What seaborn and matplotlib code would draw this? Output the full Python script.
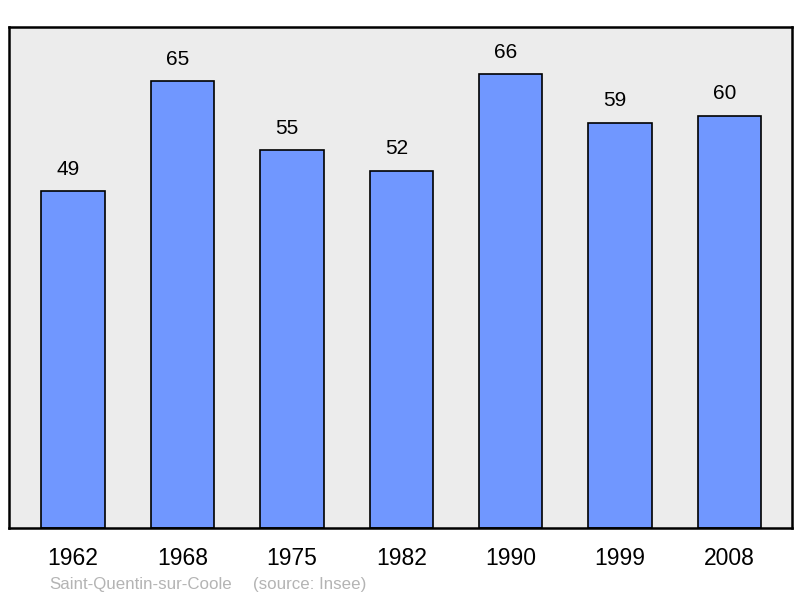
import matplotlib
matplotlib.use('Agg')
import matplotlib.pyplot as plt
import seaborn as sns
import pandas as pd

sns.set_theme(style='white')
plt.rcParams['font.family'] = ['Liberation Sans', 'DejaVu Sans']

years = ['1962', '1968', '1975', '1982', '1990', '1999', '2008']
population = [49, 65, 55, 52, 66, 59, 60]

df = pd.DataFrame({'year': years, 'pop': population})

fig = plt.figure(figsize=(8, 5.98), dpi=100)
ax = fig.add_axes([0.0112, 0.117, 0.9788, 0.8378])
ax.set_facecolor('#ececec')

sns.barplot(data=df, x='year', y='pop', color='#7097ff', saturation=1,
            width=0.58, edgecolor='black', linewidth=1.2, ax=ax)

# value labels sit a little left of the bar centre, as in the original
for i, v in enumerate(population):
    ax.text(i - 0.045, v + 3.2, str(v), ha='center', va='center',
            fontsize=15, color='black')

ax.set_xlim(-0.585, 6.57)
ax.set_ylim(0, 72.9)
ax.set_yticks([])
ax.set_xlabel('')
ax.set_ylabel('')
ax.tick_params(axis='x', length=0, labelsize=16.5, pad=13.5, colors='black')
for s in ax.spines.values():
    s.set_visible(True)
    s.set_color('black')
    s.set_linewidth(1.8)

fig.text(49 / 800, 0.0234, 'Saint-Quentin-sur-Coole', va='center',
         fontsize=12.2, color='#b4b4b4')
fig.text(253 / 800, 0.0234, '(source: Insee)', va='center',
         fontsize=12.2, color='#b4b4b4')

fig.savefig('out.png', dpi=100)
